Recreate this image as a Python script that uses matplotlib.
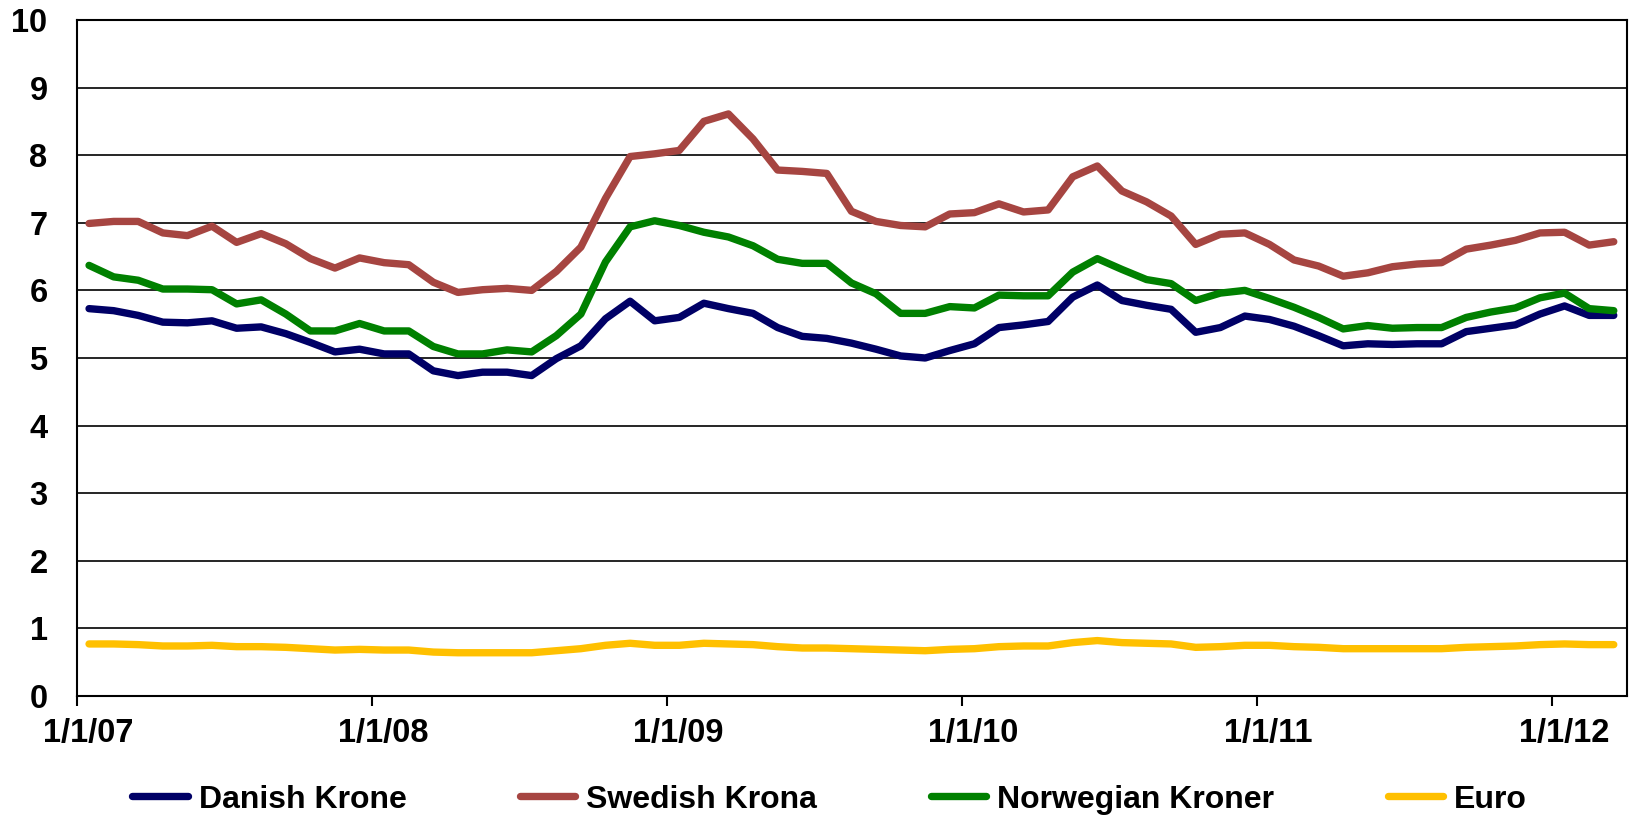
import matplotlib.pyplot as plt
import numpy as np

# monthly values, Jan 2007 .. Mar 2012 (units per US dollar)
danish_krone = [5.73, 5.70, 5.63, 5.53, 5.52, 5.55, 5.44, 5.46, 5.36, 5.23,
                5.09, 5.13, 5.06, 5.06, 4.81, 4.74, 4.79, 4.79, 4.74, 4.99,
                5.18, 5.58, 5.84, 5.55, 5.60, 5.81, 5.73, 5.66, 5.45, 5.32,
                5.29, 5.22, 5.13, 5.03, 5.00, 5.11, 5.21, 5.45, 5.49, 5.54,
                5.90, 6.08, 5.85, 5.78, 5.72, 5.38, 5.45, 5.62, 5.57, 5.47,
                5.33, 5.18, 5.21, 5.20, 5.21, 5.21, 5.39, 5.44, 5.49, 5.65,
                5.77, 5.63, 5.63]
swedish_krona = [6.99, 7.02, 7.02, 6.85, 6.81, 6.95, 6.71, 6.84, 6.69, 6.47,
                 6.33, 6.48, 6.41, 6.38, 6.12, 5.97, 6.01, 6.03, 6.00, 6.28,
                 6.64, 7.36, 7.98, 8.02, 8.07, 8.50, 8.61, 8.24, 7.78, 7.76,
                 7.73, 7.17, 7.02, 6.96, 6.94, 7.13, 7.15, 7.28, 7.16, 7.19,
                 7.68, 7.84, 7.47, 7.31, 7.10, 6.68, 6.83, 6.85, 6.68, 6.45,
                 6.36, 6.21, 6.26, 6.35, 6.39, 6.41, 6.61, 6.67, 6.74, 6.85,
                 6.86, 6.67, 6.72]
norwegian_kroner = [6.37, 6.20, 6.15, 6.02, 6.02, 6.01, 5.80, 5.86, 5.65, 5.40,
                    5.40, 5.51, 5.40, 5.40, 5.17, 5.06, 5.06, 5.12, 5.09, 5.33,
                    5.65, 6.42, 6.94, 7.03, 6.96, 6.86, 6.79, 6.66, 6.46, 6.40,
                    6.40, 6.11, 5.95, 5.66, 5.66, 5.76, 5.74, 5.93, 5.92, 5.92,
                    6.27, 6.47, 6.31, 6.16, 6.10, 5.85, 5.96, 6.00, 5.88, 5.75,
                    5.60, 5.43, 5.48, 5.44, 5.45, 5.45, 5.60, 5.68, 5.74, 5.89,
                    5.96, 5.73, 5.70]
euro = [0.77, 0.77, 0.76, 0.74, 0.74, 0.75, 0.73, 0.73, 0.72, 0.70,
        0.68, 0.69, 0.68, 0.68, 0.65, 0.64, 0.64, 0.64, 0.64, 0.67,
        0.70, 0.75, 0.78, 0.75, 0.75, 0.78, 0.77, 0.76, 0.73, 0.71,
        0.71, 0.70, 0.69, 0.68, 0.67, 0.69, 0.70, 0.73, 0.74, 0.74,
        0.79, 0.82, 0.79, 0.78, 0.77, 0.72, 0.73, 0.75, 0.75, 0.73,
        0.72, 0.70, 0.70, 0.70, 0.70, 0.70, 0.72, 0.73, 0.74, 0.76,
        0.77, 0.76, 0.76]
year_labels = ['1/1/07', '1/1/08', '1/1/09', '1/1/10', '1/1/11', '1/1/12']

series = [('Danish Krone', danish_krone, '#000066'),
          ('Swedish Krona', swedish_krona, '#A64541'),
          ('Norwegian Kroner', norwegian_kroner, '#008000'),
          ('Euro', euro, '#FFC000')]

plt.rcParams['font.family'] = ['Liberation Sans', 'DejaVu Sans']
plt.rcParams['font.weight'] = 'bold'
tick_fs = 23.5
leg_fs = 23

fig = plt.figure(figsize=(16.33, 8.15), dpi=100)
ax = fig.add_axes([0.047, 0.146, 0.9495, 0.8295])

months = np.arange(len(danish_krone)) + 0.5
for name, vals, col in series:
    ax.plot(months, vals, color=col, lw=5.3, label=name,
            solid_capstyle='round', solid_joinstyle='round')

ax.set_ylim(0, 10)
ax.set_yticks(range(0, 11))
ax.set_xlim(0, 63.05)
year_pos = np.arange(len(year_labels)) * 12
ax.set_xticks(year_pos)
ax.set_xticklabels([])
ax.set_xticks(year_pos + 0.47, minor=True)
ax.set_xticklabels(year_labels, minor=True)
ax.tick_params(axis='x', which='major', direction='out', length=7, width=1.5, color='black')
ax.tick_params(axis='x', which='minor', length=0, pad=16, labelsize=tick_fs)
ax.tick_params(axis='y', length=0, pad=21, labelsize=tick_fs)
ax.grid(axis='y', color='black', lw=1.2)
ax.set_axisbelow(True)
for sp in ax.spines.values():
    sp.set_color('black')
    sp.set_linewidth(1.5)

handles, labels = ax.get_legend_handles_labels()
fig.legend(handles, labels, loc='center', bbox_to_anchor=(0.508, 0.019), ncol=4,
           frameon=False, fontsize=leg_fs, handlelength=1.73, handletextpad=0.35,
           columnspacing=3.55, borderpad=0, borderaxespad=0)

fig.savefig('out.png', dpi=100)
